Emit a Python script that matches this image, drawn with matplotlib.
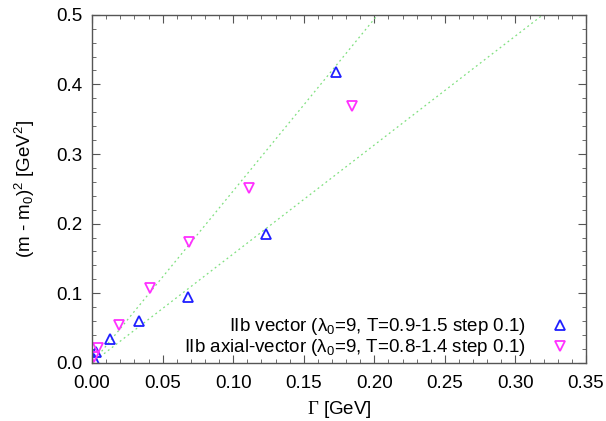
import matplotlib
matplotlib.use("Agg")
import matplotlib.pyplot as plt
from matplotlib.ticker import MultipleLocator
import numpy as np

plt.rcParams['font.family'] = ['Liberation Sans', 'DejaVu Sans']
plt.rcParams['mathtext.fontset'] = 'custom'
plt.rcParams['mathtext.rm'] = 'Liberation Serif'
plt.rcParams['mathtext.it'] = 'Liberation Sans'
plt.rcParams['mathtext.sf'] = 'Liberation Sans'

# IIb vector
vec_gamma = [0.001, 0.003, 0.013, 0.033, 0.068, 0.123, 0.173]
vec_mass2 = [0.006, 0.016, 0.034, 0.060, 0.095, 0.185, 0.418]
# IIb axial-vector
ax_gamma = [0.001, 0.004, 0.019, 0.041, 0.069, 0.111, 0.184]
ax_mass2 = [0.008, 0.021, 0.054, 0.107, 0.174, 0.251, 0.369]
# fitted slopes (through origin)
fit_slopes = [2.47, 1.565]

vec_label = r'IIb vector ($\lambda_\mathsf{0}$=9, T=0.9-1.5 step 0.1)'
ax_label = r'IIb axial-vector ($\lambda_\mathsf{0}$=9, T=0.8-1.4 step 0.1)'

fig = plt.figure(figsize=(6.06, 4.21), dpi=100)
ax = fig.add_axes([0.152, 0.138, 0.815, 0.827])

xs = np.linspace(0, 0.35, 200)
for k in fit_slopes:
    ax.plot(xs, k * xs, linestyle=(0, (1.5, 2.5)), color='#7fe07f', lw=0.9)

ax.plot(vec_gamma, vec_mass2, linestyle='none', marker='^', ms=7.5, mfc='none',
        mec='#2020ff', mew=1.3, label=vec_label)
ax.plot(ax_gamma, ax_mass2, linestyle='none', marker='v', ms=7.5, mfc='none',
        mec='#ff30ff', mew=1.3, label=ax_label)

ax.set_xlim(0, 0.35)
ax.set_ylim(0, 0.5)
ax.xaxis.set_major_locator(MultipleLocator(0.05))
ax.xaxis.set_minor_locator(MultipleLocator(0.01))
ax.yaxis.set_major_locator(MultipleLocator(0.1))
ax.yaxis.set_minor_locator(MultipleLocator(0.02))
ax.xaxis.set_major_formatter(plt.FormatStrFormatter('%.2f'))
ax.yaxis.set_major_formatter(plt.FormatStrFormatter('%.1f'))
ax.tick_params(which='both', direction='in', top=True, right=True,
               color='#555555', labelsize=13.5)
ax.tick_params(axis='x', pad=9)
ax.tick_params(axis='y', pad=7)
ax.tick_params(which='major', length=6)
ax.tick_params(which='minor', length=3)
for s in ax.spines.values():
    s.set_color('#555555')
    s.set_linewidth(1.0)

ax.set_xlabel(r'$\Gamma$ [GeV]', fontsize=13.5, labelpad=5)
ax.set_ylabel(r'(m - m$_\mathsf{0}$)$^\mathsf{2}$ [GeV$^\mathsf{2}$]', fontsize=13.5, labelpad=14)

leg = ax.legend(loc='lower right', bbox_to_anchor=(1.0, -0.035), frameon=False,
                markerfirst=False, fontsize=13.5, handletextpad=1.3,
                labelspacing=0.0, handlelength=1.0)
for t in leg.get_texts():
    t.set_ha('right')
leg._legend_box.align = 'right'

fig.savefig('out.png', dpi=100)
